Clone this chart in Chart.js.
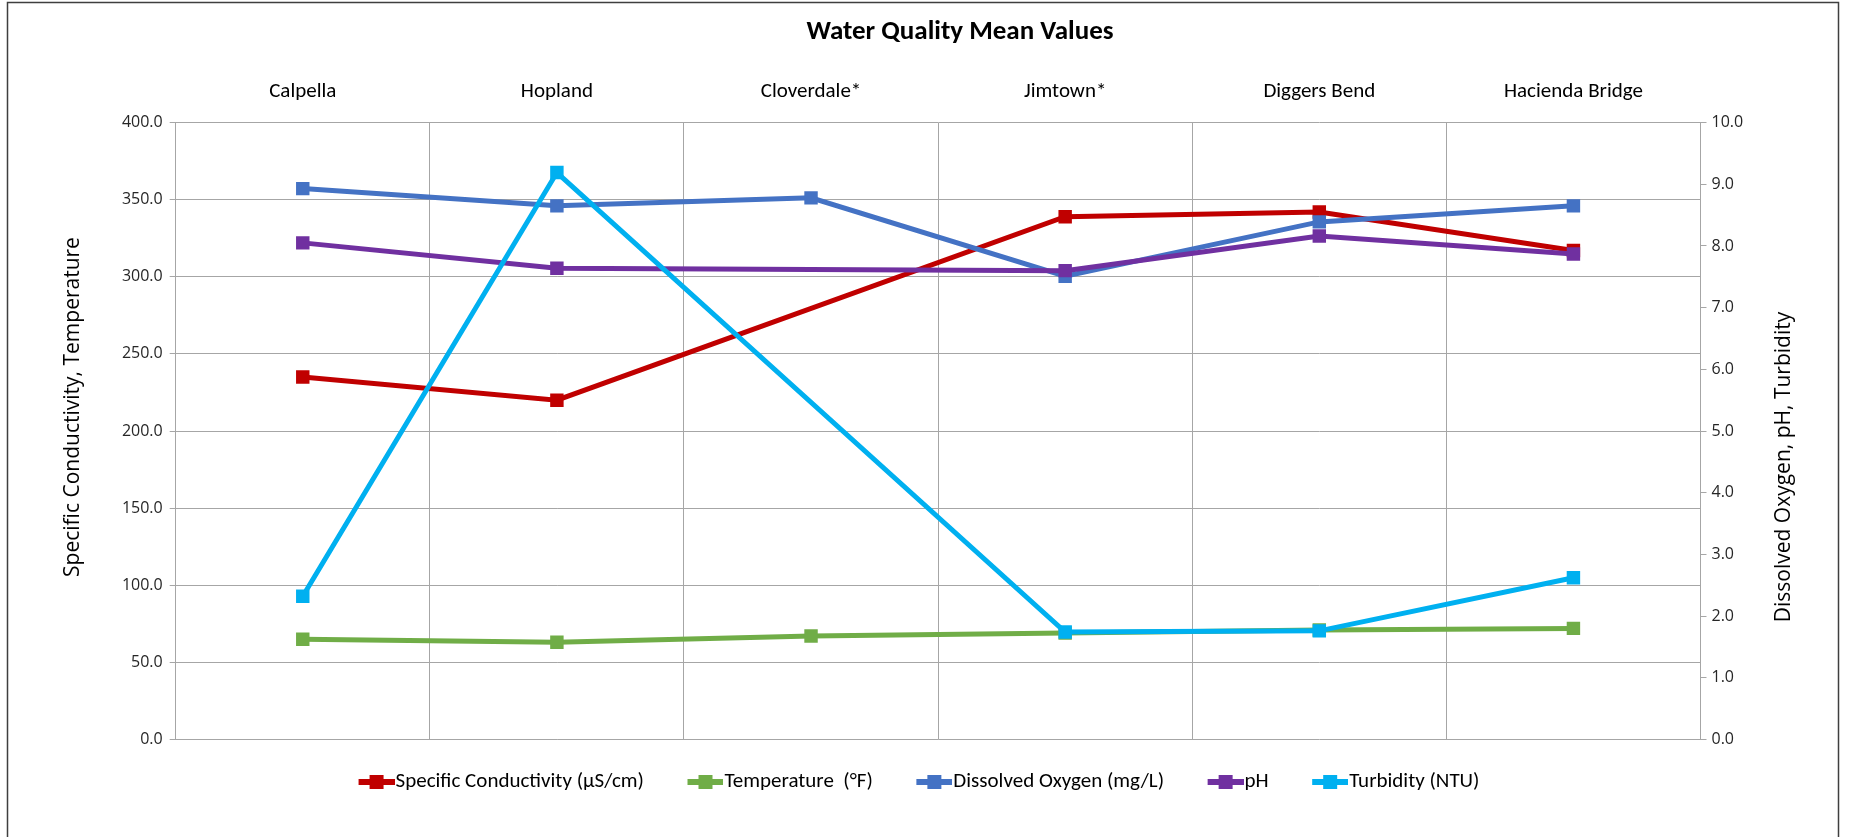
<!DOCTYPE html>
<html>
<head>
<meta charset="utf-8">
<script src="https://cdn.jsdelivr.net/npm/chart.js@4.4.1/dist/chart.umd.min.js"></script>
<style>
  html, body { margin: 0; padding: 0; background: #ffffff; }
  #wrap { position: relative; width: 1849px; height: 837px; }
</style>
</head>
<body>
<div id="wrap"><canvas id="c" width="1849" height="837"></canvas></div>
<script>
// ---- Data ----
const categories = ['Calpella', 'Hopland', 'Cloverdale*', 'Jimtown*', 'Diggers Bend', 'Hacienda Bridge'];
const specificConductivity = [235, 220, null, 339, 342, 317];
const temperature = [65, 63, 67, 69, 71, 72];
const dissolvedOxygen = [8.93, 8.65, 8.78, 7.51, 8.39, 8.65];
const phValues = [8.05, 7.64, null, 7.60, 8.16, 7.87];
const turbidity = [2.32, 9.19, null, 1.74, 1.76, 2.62];
const seriesLabels = ['Specific Conductivity (\u00b5S/cm)', 'Temperature  (\u00b0F)', 'Dissolved Oxygen (mg/L)', 'pH', 'Turbidity (NTU)'];
const leftAxisRange = [0, 400, 50];   // min, max, step
const rightAxisRange = [0, 10, 1];    // min, max, step
const chartTitle = 'Water Quality Mean Values';
const leftAxisTitle = 'Specific Conductivity, Temperature';
const rightAxisTitle = 'Dissolved Oxygen, pH, Turbidity';

// ---- Styling ----
const NARROW = 'Carlito, "Liberation Sans Narrow", "Arial Narrow", "DejaVu Sans Condensed", sans-serif';
const SANS = '"Open Sans", "Noto Sans", "DejaVu Sans", sans-serif';
const colors = ['#C00000', '#70AD47', '#4472C4', '#7030A0', '#00B0F0'];
const GRID = '#a6a6a6';

// legend marker: transparent left part, then a line with a square on it
function legendMarker(color) {
  const c = document.createElement('canvas');
  c.width = 70; c.height = 16;
  const g = c.getContext('2d');
  g.fillStyle = color;
  g.fillRect(34, 5, 36, 6);
  g.fillRect(45, 1, 14, 14);
  return c;
}
const markers = colors.map(legendMarker);

function series(i, data, axis) {
  return {
    label: seriesLabels[i],
    data: data,
    yAxisID: axis,
    borderColor: colors[i],
    backgroundColor: colors[i],
    borderWidth: 5,
    pointStyle: 'rect',
    pointRadius: 9.5,
    pointHoverRadius: 9.5,
    pointBorderWidth: 0,
    pointBackgroundColor: colors[i],
    spanGaps: true,
    tension: 0,
    fill: false,
    order: 5 - i
  };
}

const decor = {
  id: 'decor',
  beforeDraw(chart) {
    const ctx = chart.ctx;
    ctx.save();
    ctx.fillStyle = '#ffffff';
    ctx.fillRect(0, 0, chart.width, chart.height);
    ctx.restore();
  },
  afterDraw(chart) {
    const ctx = chart.ctx;
    ctx.save();
    ctx.strokeStyle = '#3f3f3f';
    ctx.lineWidth = 1.5;
    ctx.strokeRect(7.5, 2.5, 1831, 900);

    ctx.fillStyle = '#000000';
    ctx.textAlign = 'center';
    ctx.textBaseline = 'middle';
    ctx.font = 'bold 27px ' + NARROW;
    ctx.fillText(chartTitle, 960, 32);

    ctx.font = '21px ' + SANS;
    ctx.save();
    ctx.translate(73, 407);
    ctx.rotate(-Math.PI / 2);
    ctx.fillText(leftAxisTitle, 0, 0);
    ctx.restore();

    ctx.save();
    ctx.translate(1784, 467);
    ctx.rotate(-Math.PI / 2);
    ctx.fillText(rightAxisTitle, 0, 0);
    ctx.restore();

    ctx.restore();
  }
};

const defaultGen = Chart.defaults.plugins.legend.labels.generateLabels;

new Chart(document.getElementById('c'), {
  type: 'line',
  data: {
    labels: categories,
    datasets: [
      series(0, specificConductivity, 'yL'),
      series(1, temperature, 'yL'),
      series(2, dissolvedOxygen, 'yR'),
      series(3, phValues, 'yR'),
      series(4, turbidity, 'yR')
    ]
  },
  options: {
    responsive: false,
    animation: false,
    devicePixelRatio: 1,
    layout: { padding: { top: 0, left: 0, right: 35.5, bottom: 34.5 } },
    plugins: {
      title: { display: false },
      tooltip: { enabled: false },
      legend: {
        display: true,
        position: 'bottom',
        align: 'center',
        title: { display: true, text: '', padding: 0, font: { size: 13.1, lineHeight: 1 } },
        labels: {
          usePointStyle: true,
          pointStyleWidth: 51,
          padding: 19,
          color: '#000000',
          font: { family: NARROW, size: 21 },
          sort: (a, b) => a.datasetIndex - b.datasetIndex,
          generateLabels: (chart) => defaultGen(chart).map(item => {
            item.pointStyle = markers[item.datasetIndex];
            return item;
          })
        }
      }
    },
    scales: {
      x: {
        type: 'category',
        position: 'top',
        offset: true,
        grid: { offset: true, color: GRID, lineWidth: 1, drawTicks: false },
        border: { display: false },
        ticks: { font: { family: NARROW, size: 21 }, color: '#000000', padding: 18, maxRotation: 0, autoSkip: false },
        afterFit: (s) => { s.height = 122.6; }
      },
      yL: {
        type: 'linear',
        position: 'left',
        min: leftAxisRange[0],
        max: leftAxisRange[1],
        ticks: {
          stepSize: leftAxisRange[2],
          callback: (v) => Number(v).toFixed(1),
          font: { family: SANS, size: 16 },
          color: '#262626',
          padding: 7
        },
        grid: { color: GRID, lineWidth: 1, tickLength: 6 },
        border: { display: true, color: GRID, width: 1 },
        afterFit: (s) => { s.width = 175.7; }
      },
      yR: {
        type: 'linear',
        position: 'right',
        min: rightAxisRange[0],
        max: rightAxisRange[1],
        ticks: {
          stepSize: rightAxisRange[2],
          callback: (v) => Number(v).toFixed(1),
          font: { family: SANS, size: 16 },
          color: '#262626',
          padding: 5
        },
        grid: { drawOnChartArea: false, color: GRID, lineWidth: 1, tickLength: 6 },
        border: { display: true, color: GRID, width: 1 },
        afterFit: (s) => { s.width = 113; }
      }
    }
  },
  plugins: [decor]
});
</script>
</body>
</html>
